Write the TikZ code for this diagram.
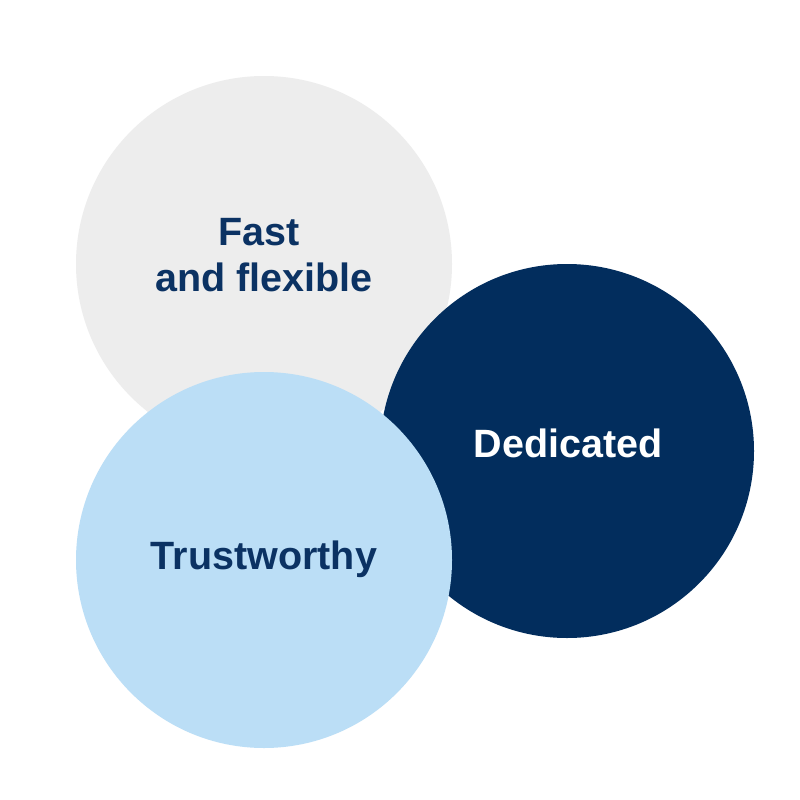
\documentclass[tikz,border=0pt]{standalone}
\usepackage{fontspec}
\setmainfont{Liberation Sans}
\definecolor{cgray}{HTML}{EDEDED}
\definecolor{cnavy}{HTML}{022D5D}
\definecolor{cblue}{HTML}{BBDEF6}
\definecolor{ctext}{HTML}{0B3263}
\begin{document}
\begin{tikzpicture}[x=1pt,y=-1pt,
  lbl/.style={font=\fontsize{39.5}{46}\selectfont\bfseries, anchor=base, inner sep=0pt}]
\useasboundingbox (0,0) rectangle (800,800);
\fill[white] (0,0) rectangle (800,800);
\fill[cgray] (264,264) circle (188);
\fill[cnavy] (567,451) circle (187);
\fill[cblue] (264,560) circle (188);
\node[lbl, text=ctext] (fast) at (259,245) {Fast};
\node[lbl, text=ctext] (flex) at (264,291) {and flexible};
\node[lbl, text=white] (ded) at (568,457) {Dedicated};
\node[lbl, text=ctext] (trust) at (264,569) {Trustworthy};
\end{tikzpicture}
\end{document}
